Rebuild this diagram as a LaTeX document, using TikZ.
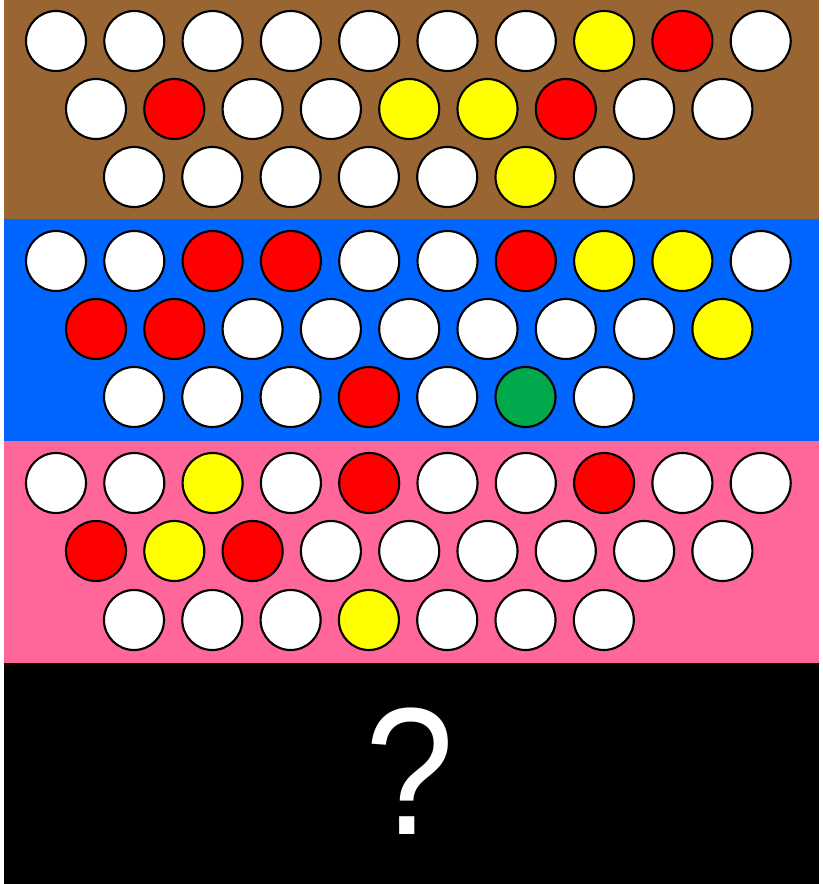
\documentclass[tikz,border=0pt]{standalone}
\usepackage{fontspec}
\setmainfont{Liberation Sans}
\definecolor{bandbrown}{HTML}{996633}
\definecolor{bandblue}{HTML}{0066FF}
\definecolor{bandpink}{HTML}{FF6699}
\definecolor{pegY}{HTML}{FFFF00}
\definecolor{pegR}{HTML}{FF0000}
\definecolor{pegW}{HTML}{FFFFFF}
\definecolor{pegG}{HTML}{00AA4C}
\tikzset{
  peg/.style={circle, draw=black, line width=1.6pt, minimum size=45pt, inner sep=0pt},
}
\begin{document}
\begin{tikzpicture}[x=0.75pt,y=-0.75pt]
\useasboundingbox (0,0) rectangle (822,884);
\fill[white] (0,0) rectangle (822,884);
\fill[bandbrown] (4,0) rectangle (819,219);
\fill[bandblue] (4,219) rectangle (819,441);
\fill[bandpink] (4,441) rectangle (819,663);
\fill[black] (4,663) rectangle (819,884);
% brown band
\foreach \c [count=\i] in {W,W,W,W,W,W,W,Y,R,W}
  \node[peg, fill=peg\c] (a1-\i) at ({56+78.3*(\i-1)},41) {};
\foreach \c [count=\i] in {W,R,W,W,Y,Y,R,W,W}
  \node[peg, fill=peg\c] (a2-\i) at ({96+78.3*(\i-1)},109) {};
\foreach \c [count=\i] in {W,W,W,W,W,Y,W}
  \node[peg, fill=peg\c] (a3-\i) at ({134+78.3*(\i-1)},177) {};
% blue band
\foreach \c [count=\i] in {W,W,R,R,W,W,R,Y,Y,W}
  \node[peg, fill=peg\c] (b1-\i) at ({56+78.3*(\i-1)},261) {};
\foreach \c [count=\i] in {R,R,W,W,W,W,W,W,Y}
  \node[peg, fill=peg\c] (b2-\i) at ({96+78.3*(\i-1)},329) {};
\foreach \c [count=\i] in {W,W,W,R,W,G,W}
  \node[peg, fill=peg\c] (b3-\i) at ({134+78.3*(\i-1)},397) {};
% pink band
\foreach \c [count=\i] in {W,W,Y,W,R,W,W,R,W,W}
  \node[peg, fill=peg\c] (c1-\i) at ({56+78.3*(\i-1)},483) {};
\foreach \c [count=\i] in {R,Y,R,W,W,W,W,W,W}
  \node[peg, fill=peg\c] (c2-\i) at ({96+78.3*(\i-1)},551) {};
\foreach \c [count=\i] in {W,W,W,Y,W,W,W}
  \node[peg, fill=peg\c] (c3-\i) at ({134+78.3*(\i-1)},620) {};
% question mark
\node[text=white, font=\fontsize{136}{138}\selectfont, inner sep=0pt, anchor=base, xscale=0.88, transform shape] (q) at (410,834) {?};
\end{tikzpicture}
\end{document}
